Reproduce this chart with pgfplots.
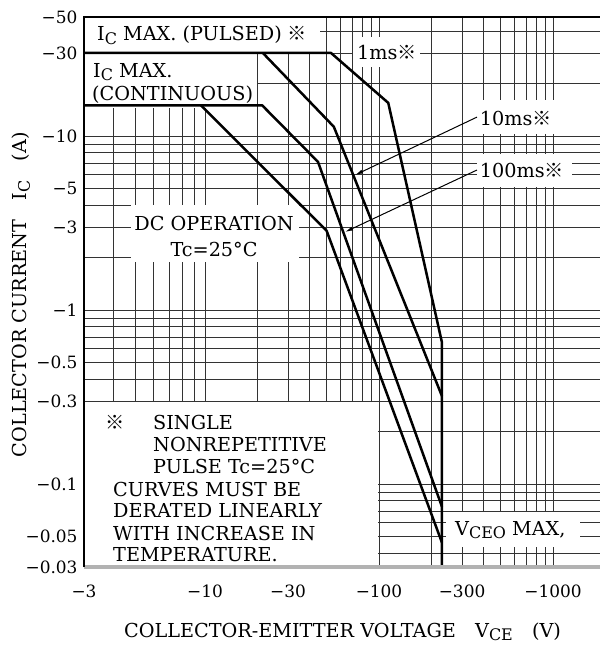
\documentclass[border=0pt]{standalone}
\usepackage{fontspec}
\setmainfont{DejaVu Serif}
\newfontfamily\cjk{Noto Sans CJK JP}
\usepackage{pgfplots}
\pgfplotsset{compat=1.18}
\usetikzlibrary{arrows.meta}
\newcommand\f{\fontsize{19.3}{23}\selectfont}
\newcommand\ft{\fontsize{17}{20}\selectfont}
\newcommand\sub[1]{\raisebox{-0.35ex}{\fontsize{16}{16}\selectfont #1}}
\newcommand\km{{\cjk ※}}
\begin{document}
\begin{tikzpicture}
\begin{axis}[
  scale only axis, width=516bp, height=550bp,
  x coord trafo/.code={\pgfmathparse{ifthenelse(#1<10,1-(1-log10(#1))*1.33,log10(#1))}},
  ymode=log,
  xmin=3, xmax=1862, ymin=0.0333, ymax=48.3,
  xtick={3,10,30,100,300,1000},
  xticklabels={−3,−10,−30,−100,−300,−1000},
  minor xtick={4,5,6,7,8,9,20,40,50,60,70,80,90,200,400,500,600,700,800,900},
  ytick={0.0333,0.05,0.1,0.3,0.5,1,3,5,10,30,48.3},
  yticklabels={−0.03,−0.05,−0.1,−0.3,−0.5,−1,−3,−5,−10,−30,−50},
  minor ytick={0.04,0.06,0.07,0.08,0.09,0.2,0.4,0.6,0.7,0.8,0.9,2,4,6,7,8,9,20,40},
  grid=both,
  major grid style={black!80,line width=0.7bp},
  minor grid style={black!80,line width=0.7bp},
  tick style={draw=none},
  separate axis lines,
  x axis line style={draw=none}, y axis line style={draw=none},
  tick label style={font=\ft},
  yticklabel style={xshift=-3bp},
  xticklabel style={yshift=-14bp},
  label style={font=\f},
  xlabel={COLLECTOR-EMITTER VOLTAGE\quad V\sub{CE}\quad (V)},
  ylabel={COLLECTOR CURRENT\quad I\sub{C}\quad (A)},
  xlabel style={at={(axis description cs:0.501,-0.118)},anchor=center},
  ylabel style={at={(axis description cs:-0.122,0.495)},anchor=center},
  clip=false,
]
% white label areas covering the grid
\fill[white] (rel axis cs:0,0.936) rectangle (rel axis cs:0.457,1);
\fill[white] (rel axis cs:0,0.835) rectangle (rel axis cs:0.335,0.936);
\fill[white] (rel axis cs:0.521,0.909) rectangle (rel axis cs:0.651,0.964);
\fill[white] (rel axis cs:0.760,0.787) rectangle (rel axis cs:0.925,0.849);
\fill[white] (rel axis cs:0.762,0.691) rectangle (rel axis cs:0.945,0.751);
\fill[white] (rel axis cs:0.091,0.555) rectangle (rel axis cs:0.416,0.658);
\fill[white] (rel axis cs:0,0) rectangle (rel axis cs:0.570,0.300);
\fill[white] (rel axis cs:0.701,0.036) rectangle (rel axis cs:0.961,0.100);

% 1 ms (with pulsed Ic max and VCEO max)
\addplot[black, line width=2.5bp, line join=round] coordinates {(3,30) (53,30) (113,15.5) (230,0.65) (230,0.0333)};
% 10 ms
\addplot[black, line width=2.5bp, line join=round] coordinates {(21.5,30) (55,11.3) (230,0.32)};
% 100 ms (with continuous Ic max)
\addplot[black, line width=2.5bp, line join=round] coordinates {(3,15) (21.3,15) (44.6,7.1) (230,0.074)};
% DC
\addplot[black, line width=2.5bp, line join=round] coordinates {(9.6,15) (50,2.85) (230,0.046)};

% axis lines
\draw[black!30, line width=4bp] (rel axis cs:0,0) -- (rel axis cs:1,0);
\draw[black, line width=2bp] (rel axis cs:0,0) -- (rel axis cs:0,1) -- (rel axis cs:1,1);

% labels
\node[anchor=west,font=\f,inner sep=0] at (rel axis cs:0.0252,0.967) {I\sub{C} MAX. (PULSED) \km};
\node[anchor=west,font=\f,inner sep=0] at (rel axis cs:0.0175,0.900) {I\sub{C} MAX.};
\node[anchor=west,font=\f,inner sep=0] at (rel axis cs:0.0155,0.858) {(CONTINUOUS)};
\node[anchor=center,font=\f,inner sep=0] at (rel axis cs:0.587,0.936) {1ms\km};
\node[anchor=west,font=\f,inner sep=0] at (rel axis cs:0.767,0.816) {10ms\km};
\node[anchor=west,font=\f,inner sep=0] at (rel axis cs:0.767,0.720) {100ms\km};
\node[anchor=center,font=\f,inner sep=0] at (rel axis cs:0.252,0.624) {DC OPERATION};
\node[anchor=center,font=\f,inner sep=0] at (rel axis cs:0.252,0.578) {Tc=25°C};
\node[anchor=center,font=\f,inner sep=0] at (rel axis cs:0.060,0.2636) {\km};
\node[anchor=west,font=\f,inner sep=0] at (rel axis cs:0.1337,0.2636) {SINGLE};
\node[anchor=west,font=\f,inner sep=0] at (rel axis cs:0.1337,0.2236) {NONREPETITIVE};
\node[anchor=west,font=\f,inner sep=0] at (rel axis cs:0.1337,0.1836) {PULSE Tc=25°C};
\node[anchor=west,font=\f,inner sep=0] at (rel axis cs:0.0562,0.1418) {CURVES MUST BE};
\node[anchor=west,font=\f,inner sep=0] at (rel axis cs:0.0562,0.1018) {DERATED LINEARLY};
\node[anchor=west,font=\f,inner sep=0] at (rel axis cs:0.0562,0.0618) {WITH INCREASE IN};
\node[anchor=west,font=\f,inner sep=0] at (rel axis cs:0.0562,0.0218) {TEMPERATURE.};
\node[anchor=west,font=\f,inner sep=0] at (rel axis cs:0.719,0.0673) {V\sub{CEO} MAX,};

% arrows
\draw[-{Latex[length=8bp,width=4bp]}, line width=1bp] (rel axis cs:0.7616,0.818) -- (rel axis cs:0.5252,0.7127);
\draw[-{Latex[length=8bp,width=4bp]}, line width=1bp] (rel axis cs:0.7616,0.7218) -- (rel axis cs:0.5058,0.6091);

\coordinate (ax-sw) at (rel axis cs:0,0);
\coordinate (ax-ne) at (rel axis cs:1,1);
\end{axis}
\pgfresetboundingbox
\path[use as bounding box] ([shift={(-84bp,-79bp)}]ax-sw) rectangle ([shift={(0bp,17bp)}]ax-ne);
\end{tikzpicture}
\end{document}
